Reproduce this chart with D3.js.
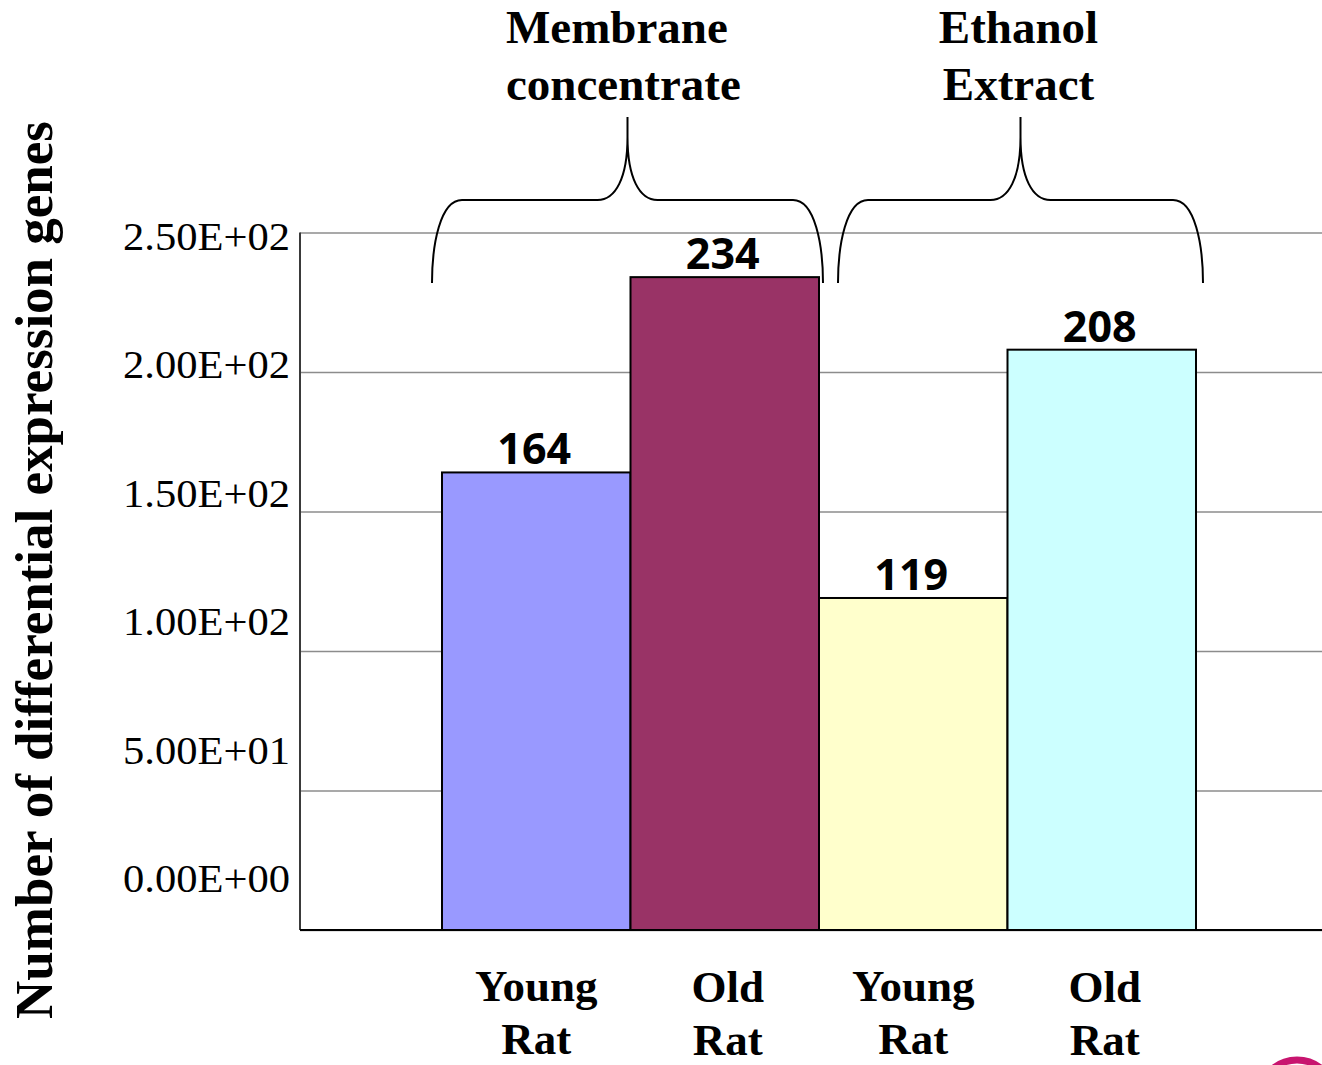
<!DOCTYPE html>
<html>
<head>
<meta charset="utf-8">
<script src="https://cdn.jsdelivr.net/npm/d3@7/dist/d3.min.js"></script>
<style>
  html, body { margin: 0; padding: 0; background: #fff; }
  svg { display: block; }
</style>
</head>
<body>
<svg id="chart" width="1322" height="1065"></svg>
<script>
// Differentially expressed genes per treatment and age group
const categories = ["MC-Young", "MC-Old", "EE-Young", "EE-Old"];
const categoryLines = [["Young", "Rat"], ["Old", "Rat"], ["Young", "Rat"], ["Old", "Rat"]];
const geneCounts = [164, 234, 119, 208];
const barColors = ["#9999FF", "#993366", "#FFFFCC", "#CCFFFF"];
const tickValues = [0, 50, 100, 150, 200, 250];
const tickLabels = ["0.00E+00", "5.00E+01", "1.00E+02", "1.50E+02", "2.00E+02", "2.50E+02"];
const groupNames = [["Membrane", "concentrate"], ["Ethanol", "Extract"]];
const groupMembers = [["MC-Young", "MC-Old"], ["EE-Young", "EE-Old"]];
const yTitle = "Number of differential expression genes";

const W = 1322, H = 1065;
const plot = { left: 300, right: W, top: 232.5, bottom: 930 };
const serif = "'Liberation Serif', 'Times New Roman', serif";
const sans = "'Open Sans', 'Noto Sans', sans-serif";

const svg = d3.select("#chart");

const y = d3.scaleLinear().domain([0, 250]).range([plot.bottom, plot.top]);
const x = d3.scaleBand().domain(categories).range([442, 1196]).padding(0);
// tick captions sit on their own, slightly compressed ladder
const yLabel = d3.scaleLinear().domain([0, 250]).range([892, 250]);

// horizontal gridlines
const grid = svg.append("g")
  .attr("transform", `translate(${plot.left},0)`)
  .call(d3.axisLeft(y).tickValues(tickValues).tickSize(-(plot.right - plot.left)).tickFormat(""));
grid.select(".domain").remove();
grid.selectAll(".tick line").attr("stroke", "#8c8c8c").attr("stroke-width", 1.6);

// left axis line
svg.append("line")
  .attr("x1", plot.left).attr("x2", plot.left)
  .attr("y1", y(250)).attr("y2", y(0))
  .attr("stroke", "#3a3a3a").attr("stroke-width", 2);

// tick captions (set slightly wide)
svg.append("g").selectAll("text")
  .data(tickValues)
  .join("text")
  .attr("x", 290)
  .attr("y", d => yLabel(d))
  .attr("text-anchor", "end")
  .attr("font-family", serif)
  .attr("font-size", 39)
  .attr("textLength", 167)
  .attr("lengthAdjust", "spacingAndGlyphs")
  .attr("fill", "#000")
  .text((d, i) => tickLabels[i]);

// bars
const data = categories.map((c, i) => ({ c, v: geneCounts[i], color: barColors[i], lines: categoryLines[i] }));
svg.append("g").selectAll("rect")
  .data(data)
  .join("rect")
  .attr("x", d => x(d.c))
  .attr("y", d => y(d.v))
  .attr("width", x.bandwidth())
  .attr("height", d => y(0) - y(d.v))
  .attr("fill", d => d.color)
  .attr("stroke", "#000")
  .attr("stroke-width", 2);

// bottom axis line
svg.append("line")
  .attr("x1", plot.left).attr("x2", plot.right)
  .attr("y1", y(0)).attr("y2", y(0))
  .attr("stroke", "#000").attr("stroke-width", 2);

// value labels
svg.append("g").selectAll("text")
  .data(data)
  .join("text")
  .attr("x", d => x(d.c) + x.bandwidth() / 2 - 2)
  .attr("y", d => y(d.v) - 8)
  .attr("text-anchor", "middle")
  .attr("font-family", sans)
  .attr("font-weight", 700)
  .attr("font-size", 43)
  .attr("fill", "#000")
  .text(d => d.v);

// category labels (two lines)
const cat = svg.append("g").selectAll("text")
  .data(data)
  .join("text")
  .attr("text-anchor", "middle")
  .attr("font-family", serif)
  .attr("font-weight", 700)
  .attr("font-size", 45)
  .attr("fill", "#000");
cat.each(function (d, i) {
  const cx = x(d.c) + x.bandwidth() / 2 + (i % 2 === 1 ? 3 : 0);
  const base = i % 2 === 1 ? 1002 : 1001;
  d3.select(this).selectAll("tspan")
    .data(d.lines)
    .join("tspan")
    .attr("x", cx)
    .attr("y", (t, j) => base + j * 53)
    .text(t => t);
});

// y-axis title
svg.append("text")
  .attr("transform", "translate(52,570) rotate(-90)")
  .attr("text-anchor", "middle")
  .attr("font-family", serif)
  .attr("font-weight", 700)
  .attr("font-size", 53)
  .attr("fill", "#000")
  .text(yTitle);

// curly braces above each treatment group
function bracePath(x0, x1, xm) {
  const yEnd = 283, yFlat = 200, yPeak = 117, r = 30;
  return [
    `M${x0},${yEnd}`,
    `C${x0},${yEnd - 38} ${x0 + 8},${yFlat} ${x0 + r},${yFlat}`,
    `L${xm - r},${yFlat}`,
    `C${xm - 12},${yFlat} ${xm},${yFlat - 22} ${xm},${yFlat - 63}`,
    `L${xm},${yPeak}`,
    `M${xm},${yFlat - 63}`,
    `C${xm},${yFlat - 22} ${xm + 12},${yFlat} ${xm + r},${yFlat}`,
    `L${x1 - r},${yFlat}`,
    `C${x1 - 8},${yFlat} ${x1},${yEnd - 38} ${x1},${yEnd}`
  ].join(" ");
}
const braceOffsets = [[-10, 4], [19, 7]];
groupMembers.forEach((members, gi) => {
  const x0 = x(members[0]) + braceOffsets[gi][0];
  const x1 = x(members[members.length - 1]) + x.bandwidth() + braceOffsets[gi][1];
  const xm = (x0 + x1) / 2;
  svg.append("path")
    .attr("d", bracePath(x0, x1, xm))
    .attr("fill", "none")
    .attr("stroke", "#000")
    .attr("stroke-width", 2);
  const t = svg.append("text")
    .attr("font-family", serif)
    .attr("font-weight", 700)
    .attr("font-size", 47)
    .attr("fill", "#000")
    .attr("text-anchor", gi === 0 ? "start" : "middle");
  t.selectAll("tspan")
    .data(groupNames[gi])
    .join("tspan")
    .attr("x", gi === 0 ? 506 : xm - 2)
    .attr("y", (s, j) => 43 + j * 57)
    .text(s => s);
});

// corner emblem, partly cut off at the page edge
svg.append("circle")
  .attr("cx", 1297).attr("cy", 1098).attr("r", 38)
  .attr("fill", "none").attr("stroke", "#c8156f").attr("stroke-width", 7);
</script>
</body>
</html>
